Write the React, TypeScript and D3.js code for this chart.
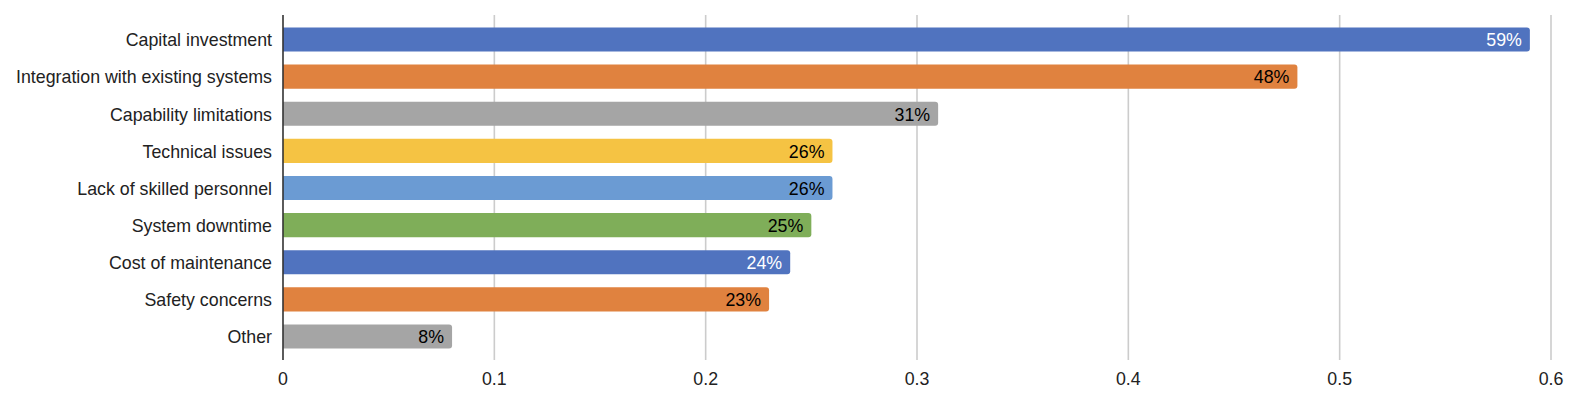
import React from 'react';
import * as d3 from 'd3';

const categories = [
  'Capital investment',
  'Integration with existing systems',
  'Capability limitations',
  'Technical issues',
  'Lack of skilled personnel',
  'System downtime',
  'Cost of maintenance',
  'Safety concerns',
  'Other',
];
const values = [0.59, 0.48, 0.31, 0.26, 0.26, 0.25, 0.24, 0.23, 0.08];
const barColors = ['#5073bf', '#e0823f', '#a5a5a5', '#f5c343', '#6b9bd3', '#7fae59', '#5073bf', '#e0823f', '#a5a5a5'];
const labelColors = ['#fff', '#000', '#000', '#000', '#000', '#000', '#fff', '#000', '#000'];
const xTicks = [0, 0.1, 0.2, 0.3, 0.4, 0.5, 0.6];

const width = 1572;
const height = 399;
const plot = { left: 283, right: 1551, top: 15, bottom: 360 };
const font = 'Arial, "Liberation Sans", Helvetica, sans-serif';
const fs = 17.8;

// horizontal bar, square at the axis, rounded at the end
const barPath = (x0: number, x1: number, y: number, h: number, r: number) =>
  `M${x0},${y}H${x1 - r}Q${x1},${y} ${x1},${y + r}V${y + h - r}Q${x1},${y + h} ${x1 - r},${y + h}H${x0}Z`;

export default function App() {
  const x = d3.scaleLinear().domain([0, 0.6]).range([plot.left, plot.right]);
  const y = d3
    .scaleBand()
    .domain(categories)
    .range([21, 355])
    .paddingInner(0.35)
    .paddingOuter(0.175);
  const fmt = d3.format('.0%');

  return (
    <svg
      width={width}
      height={height}
      style={{ position: 'absolute', left: 0, top: 0, background: '#fff' }}
      fontFamily={font}
    >
      {xTicks.slice(1).map(t => (
        <line key={t} x1={x(t)} x2={x(t)} y1={plot.top} y2={plot.bottom} stroke="#cccccc" strokeWidth={1.6} />
      ))}
      {categories.map((c, i) => {
        const y0 = y(c)!;
        const h = y.bandwidth();
        const x1 = x(values[i]);
        return (
          <g key={c}>
            <path d={barPath(plot.left, x1, y0, h, 3)} fill={barColors[i]} />
            <text x={x1 - 8} y={y0 + h / 2 + 0.5} dy="0.35em" textAnchor="end" fontSize={fs} fill={labelColors[i]}>
              {fmt(values[i])}
            </text>
            <text x={272} y={y0 + h / 2 + 0.5} dy="0.35em" textAnchor="end" fontSize={fs} fill="#222">
              {c}
            </text>
          </g>
        );
      })}
      <line x1={plot.left} x2={plot.left} y1={plot.top} y2={plot.bottom} stroke="#333" strokeWidth={1.6} />
      {xTicks.map(t => (
        <text key={t} x={x(t)} y={384.5} textAnchor="middle" fontSize={fs} fill="#222">
          {t}
        </text>
      ))}
    </svg>
  );
}
